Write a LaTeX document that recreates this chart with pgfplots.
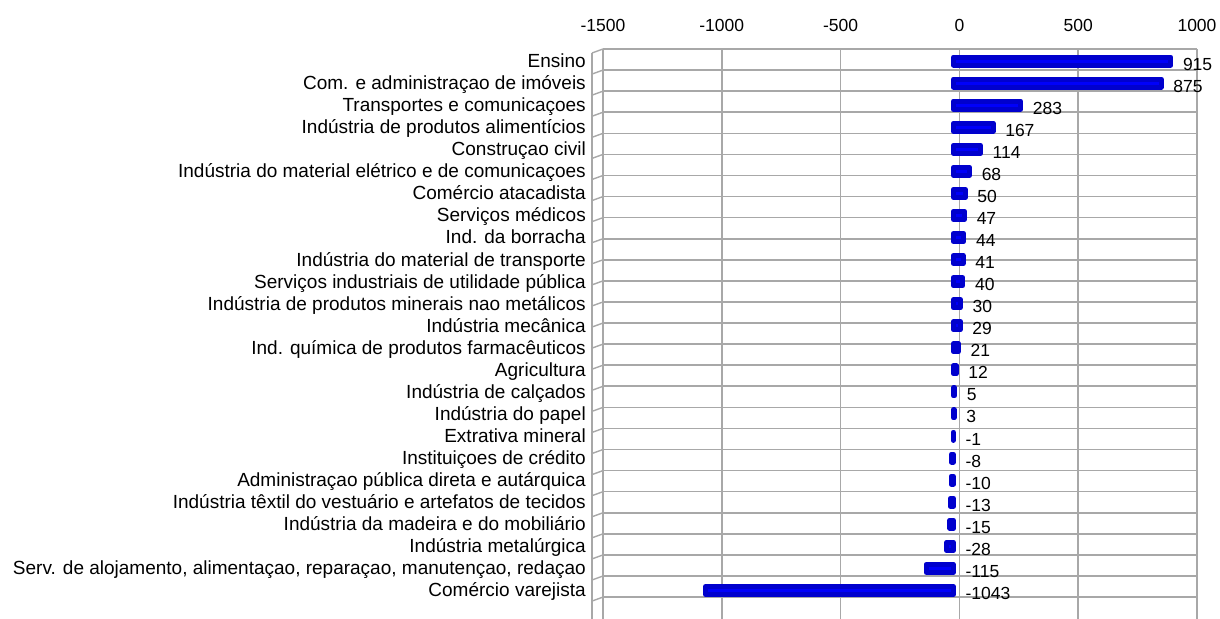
\documentclass[border=0pt]{standalone}
\usepackage{fontspec}
\setmainfont{Liberation Sans}
\usepackage{pgfplots}
\usepackage{pgfplotstable}
\pgfplotsset{compat=1.18}
\definecolor{gridgray}{RGB}{168,168,168}
\definecolor{barblue}{RGB}{0,0,250}
\definecolor{baredge}{RGB}{0,0,205}
\pgfplotstableread{
idx v lx
1 915 915
2 875 875
3 283 283
4 167 167
5 114 114
6 68 68
7 50 50
8 47 47
9 44 44
10 41 41
11 40 40
12 30 30
13 29 29
14 21 21
15 12 12
16 5 5
17 3 3
18 -1 0
19 -8 0
20 -10 0
21 -13 0
22 -15 0
23 -28 0
24 -115 0
25 -1043 0
}\data
\begin{document}
\begin{tikzpicture}
\useasboundingbox (-603bp,0bp) rectangle (617bp,619bp);
\begin{axis}[
  at={(0,0)}, anchor=south west,
  scale only axis,
  width=594bp, height=570bp,
  xmin=-1500, xmax=1000,
  ymin=0.456, ymax=26.295,
  y dir=reverse,
  axis line style={draw=none},
  xtick={-1500,-1000,-500,0,500,1000},
  xticklabels={-1500,-1000,-500,0,500,1000},
  xticklabel pos=top,
  xticklabel style={anchor=base, inner sep=0pt, yshift=17.3bp, font=\fontsize{17.5bp}{20bp}\selectfont},
  major tick length=0pt, minor tick length=0pt,
  xmajorgrids=true,
  ytick={1,...,25},
  yticklabels={Ensino,
    Com. e administraçao de imóveis,
    Transportes e comunicaçoes,
    Indústria de produtos alimentícios,
    Construçao civil,
    Indústria do material elétrico e de comunicaçoes,
    Comércio atacadista,
    Serviços médicos,
    Ind. da borracha,
    Indústria do material de transporte,
    Serviços industriais de utilidade pública,
    Indústria de produtos minerais nao metálicos,
    Indústria mecânica,
    Ind. química de produtos farmacêuticos,
    Agricultura,
    Indústria de calçados,
    Indústria do papel,
    Extrativa mineral,
    Instituiçoes de crédito,
    Administraçao pública direta e autárquica,
    Indústria têxtil do vestuário e artefatos de tecidos,
    Indústria da madeira e do mobiliário,
    Indústria metalúrgica,
    {Serv. de alojamento, alimentaçao, reparaçao, manutençao, redaçao},
    Comércio varejista},
  yticklabel style={anchor=base east, inner sep=0pt, xshift=-17bp, yshift=-6.5bp, font=\fontsize{19bp}{22bp}\selectfont},
  minor ytick={0.456,1.412,2.367,3.323,4.278,5.234,6.190,7.145,8.101,9.056,10.012,10.968,11.923,12.879,13.834,14.790,15.746,16.701,17.657,18.612,19.568,20.524,21.479,22.435,23.390,24.346,25.302},
  yminorgrids=true,
  grid style={draw=gridgray, line width=1.6bp},
  minor grid style={draw=gridgray, line width=1.6bp},
  every tick label/.append style={text=black},
  clip=false,
]
\addplot[xbar, bar width=8bp, fill=barblue, draw=baredge, line width=5bp, line join=round, xshift=-6bp]
  table[x=v, y=idx] {\data};
\addplot[only marks, mark=none, nodes near coords, point meta=explicit symbolic,
  nodes near coords style={anchor=base west, inner sep=0pt, xshift=6bp, yshift=-9bp,
    font=\fontsize{17.5bp}{20bp}\selectfont, text=black}]
  table[x=lx, y=idx, meta=v] {\data};
\end{axis}
% left side wall of the 3D frame
\draw[gridgray, line width=1.4bp] (-11bp,566bp) -- (-11bp,0bp);
\foreach \j in {0,...,26}{
  \draw[gridgray, line width=1.4bp] (0bp,{(570-21.08*\j)*1bp}) -- ++(-11bp,-4bp);
}
\end{tikzpicture}
\end{document}
